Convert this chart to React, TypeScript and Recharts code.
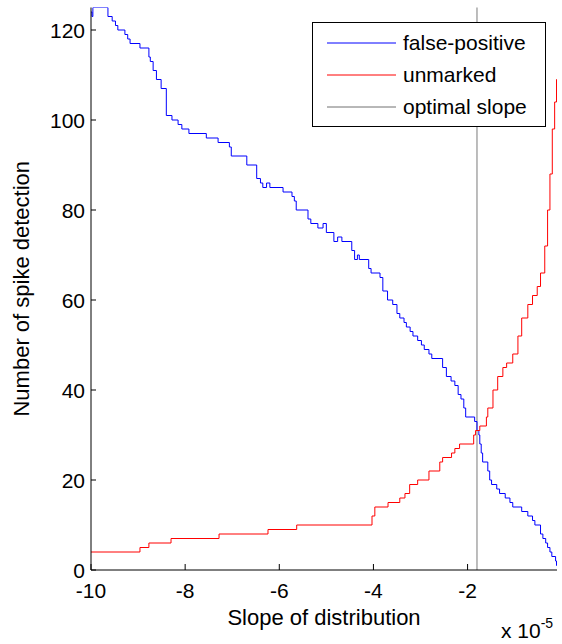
import React from 'react';
import { LineChart, Line, XAxis, YAxis, ReferenceLine, Legend, Label } from 'recharts';

// slope values are in units of 1e-5
const fpSlope = [
  -10, -9.98, -9.96, -9.64, -9.55, -9.48, -9.43, -9.28, -9.22, -9.17, -8.96, -8.77, -8.74, -8.68, -8.61,
  -8.51, -8.4, -8.28, -8.15, -8.07, -7.92, -7.55, -7.3, -7.06, -7.02, -6.69, -6.48, -6.4, -6.35, -6.27,
  -6.2, -5.92, -5.73, -5.68, -5.64, -5.39, -5.33, -5.18, -5.07, -5.0, -4.84, -4.76, -4.67, -4.46, -4.4,
  -4.34, -4.3, -4.1, -4.05, -3.86, -3.8, -3.7, -3.59, -3.5, -3.44, -3.35, -3.3, -3.22, -3.16, -3.06,
  -2.98, -2.92, -2.82, -2.76, -2.53, -2.45, -2.35, -2.27, -2.2, -2.14, -2.08, -2.04, -1.85, -1.8, -1.76,
  -1.74, -1.71, -1.68, -1.57, -1.53, -1.49, -1.38, -1.32, -1.2, -1.1, -1.04, -0.85, -0.72, -0.62, -0.57,
  -0.45, -0.4, -0.34, -0.3, -0.25, -0.21, -0.13, -0.11, -0.1,
];
const fpCount = [
  124, 123, 125, 123, 122, 121, 120, 119, 118, 117, 116, 114, 113, 111, 109,
  107, 101, 100, 99, 98, 97, 96, 95, 94, 92, 90, 87, 86, 85, 86,
  85, 84, 83, 82, 80, 78, 77, 76, 77, 75, 73, 74, 73, 71, 69,
  70, 69, 67, 66, 65, 62, 60, 59, 57, 56, 55, 54, 53, 52, 51,
  50, 49, 48, 47, 45, 43, 42, 41, 39, 38, 36, 34, 33, 31, 30,
  28, 26, 24, 22, 20, 19, 18, 17, 16, 15, 14, 13, 12, 11, 10,
  8, 7, 6, 5, 4, 3, 2, 1, 1,
];

const umSlope = [
  -10, -8.96, -8.77, -8.3, -7.28, -6.24, -5.63, -4.03, -3.97, -3.69, -3.44, -3.33, -3.23, -3.06, -2.82,
  -2.59, -2.53, -2.34, -2.27, -2.17, -1.87, -1.83, -1.74, -1.6, -1.57, -1.46, -1.36, -1.25, -1.17, -1.04,
  -0.93, -0.85, -0.72, -0.62, -0.52, -0.45, -0.36, -0.3, -0.25, -0.2, -0.15, -0.11, -0.1,
];
const umCount = [
  4, 5, 6, 7, 8, 9, 10, 12, 14, 15, 16, 17, 19, 20, 22,
  24, 25, 26, 27, 28, 30, 31, 32, 34, 36, 40, 43, 45, 46, 48,
  52, 56, 59, 61, 63, 66, 72, 80, 88, 98, 104, 109, 109,
];

const optimalSlope = -1.8;
const xTicks = [-10, -8, -6, -4, -2];
const yTicks = [0, 20, 40, 60, 80, 100, 120];

const legendItems = [
  { name: 'false-positive', color: '#0000ff' },
  { name: 'unmarked', color: '#ff0000' },
  { name: 'optimal slope', color: '#707070' },
];

const falsePositive = fpSlope.map((s, i) => ({ slope: s, count: fpCount[i] }));
const unmarked = umSlope.map((s, i) => ({ slope: s, count: umCount[i] }));

const FONT = 'Arial, "Liberation Sans", Helvetica, sans-serif';

const BottomTick = ({ x, y, payload }: any) => (
  <g>
    <line x1={x} y1={y} x2={x} y2={y - 6} stroke="#000" />
    <text x={x} y={y + 28} textAnchor="middle" fontSize={21} fontFamily={FONT} fill="#000">
      {payload.value}
    </text>
  </g>
);

const TopTick = ({ x, y }: any) => <line x1={x} y1={y} x2={x} y2={y + 6} stroke="#000" />;

const LeftTick = ({ x, y, payload }: any) => (
  <g>
    <line x1={x} y1={y} x2={x + 5} y2={y} stroke="#000" />
    <text x={x - 6} y={y + 7.5} textAnchor="end" fontSize={21} fontFamily={FONT} fill="#000">
      {payload.value}
    </text>
  </g>
);

const RightTick = ({ x, y }: any) => <line x1={x} y1={y} x2={x - 5} y2={y} stroke="#000" />;

const LegendBox = () => (
  <div
    style={{
      border: '1px solid #000',
      background: '#fff',
      boxSizing: 'border-box',
      width: 234,
      height: 105,
      paddingTop: 4,
      fontFamily: FONT,
      fontSize: 21,
    }}
  >
    {legendItems.map((item) => (
      <div key={item.name} style={{ display: 'flex', alignItems: 'center', height: 32 }}>
        <svg width={90} height={10}>
          <line x1={14} y1={5} x2={83} y2={5} stroke={item.color} strokeWidth={1} />
        </svg>
        <span>{item.name}</span>
      </div>
    ))}
  </div>
);

export default function App() {
  return (
    <div style={{ position: 'absolute', left: 0, top: 0, background: '#fff' }}>
      <LineChart width={562} height={644} margin={{ top: 7.5, right: 5, bottom: 44, left: 51 }}>
        <XAxis
          xAxisId="main"
          dataKey="slope"
          type="number"
          domain={[-10, -0.1]}
          ticks={xTicks}
          interval={0}
          allowDataOverflow
          height={30}
          tickSize={0}
          tickMargin={0}
          tickLine={false}
          axisLine={{ stroke: '#000' }}
          tick={<BottomTick />}
        >
          <Label
            content={({ viewBox }: any) => (
              <text
                x={viewBox.x + viewBox.width / 2}
                y={viewBox.y + 55}
                textAnchor="middle"
                fontSize={22}
                fontFamily={FONT}
                fill="#000"
              >
                Slope of distribution
              </text>
            )}
          />
        </XAxis>
        <XAxis
          xAxisId="top"
          orientation="top"
          dataKey="slope"
          type="number"
          domain={[-10, -0.1]}
          ticks={xTicks}
          interval={0}
          allowDataOverflow
          height={0}
          tickSize={0}
          tickMargin={0}
          tickLine={false}
          axisLine={{ stroke: '#000' }}
          tick={<TopTick />}
        />
        <YAxis
          yAxisId="main"
          type="number"
          domain={[0, 125]}
          ticks={yTicks}
          interval={0}
          allowDataOverflow
          width={40}
          tickSize={0}
          tickMargin={0}
          tickLine={false}
          axisLine={{ stroke: '#000' }}
          tick={<LeftTick />}
        >
          <Label
            content={({ viewBox }: any) => {
              const cy = viewBox.y + viewBox.height / 2;
              return (
                <text
                  x={29}
                  y={cy}
                  transform={`rotate(-90, 29, ${cy})`}
                  textAnchor="middle"
                  fontSize={22}
                  fontFamily={FONT}
                  fill="#000"
                >
                  Number of spike detection
                </text>
              );
            }}
          />
        </YAxis>
        <YAxis
          yAxisId="right"
          orientation="right"
          type="number"
          domain={[0, 125]}
          ticks={yTicks}
          interval={0}
          allowDataOverflow
          width={0}
          tickSize={0}
          tickMargin={0}
          tickLine={false}
          axisLine={{ stroke: '#000' }}
          tick={<RightTick />}
        />
        <ReferenceLine xAxisId="main" yAxisId="main" x={optimalSlope} stroke="#999999" strokeWidth={1.3} />
        <Line
          xAxisId="main"
          yAxisId="main"
          data={falsePositive}
          dataKey="count"
          type="stepAfter"
          stroke="#0000ff"
          strokeWidth={1}
          dot={false}
          isAnimationActive={false}
        />
        <Line
          xAxisId="main"
          yAxisId="main"
          data={unmarked}
          dataKey="count"
          type="stepAfter"
          stroke="#ff0000"
          strokeWidth={1}
          dot={false}
          isAnimationActive={false}
        />
        <Legend
          layout="vertical"
          align="center"
          verticalAlign="middle"
          content={<LegendBox />}
          wrapperStyle={{ left: 312, top: 22, width: 234, height: 105 }}
        />
      </LineChart>
      <div
        style={{
          position: 'absolute',
          left: 501,
          top: 617,
          fontFamily: FONT,
          fontSize: 21,
          color: '#000',
          whiteSpace: 'nowrap',
        }}
      >
        x 10<sup style={{ fontSize: 14, position: 'relative', top: -2 }}>-5</sup>
      </div>
    </div>
  );
}
